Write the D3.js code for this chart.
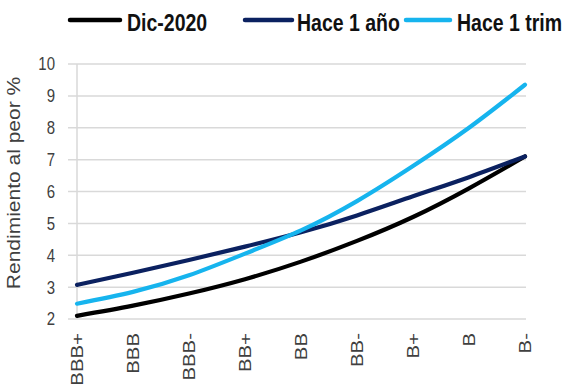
<!DOCTYPE html>
<html>
<head>
<meta charset="utf-8">
<script src="https://cdn.jsdelivr.net/npm/d3@7/dist/d3.min.js"></script>
<style>
  html, body { margin: 0; padding: 0; background: #fff; }
  svg { display: block; }
  text { font-family: "Liberation Sans", Arial, sans-serif; }
</style>
</head>
<body>
<svg id="chart" width="566" height="385"></svg>
<script>
// Ratings on the x axis and yield-to-worst curves (%)
const categories = ["BBB+", "BBB", "BBB-", "BB+", "BB", "BB-", "B+", "B", "B-"];
const dic2020   = [2.10, 2.42, 2.80, 3.25, 3.80, 4.45, 5.20, 6.10, 7.10];
const hace1Ano  = [3.07, 3.45, 3.85, 4.27, 4.72, 5.25, 5.85, 6.45, 7.10];
const hace1Trim = [2.48, 2.85, 3.37, 4.05, 4.78, 5.70, 6.80, 8.00, 9.35];
const yTicks = [2, 3, 4, 5, 6, 7, 8, 9, 10];

const seriesNames = ["Dic-2020", "Hace 1 año", "Hace 1 trim"];
const seriesValues = [dic2020, hace1Ano, hace1Trim];
const seriesColors = ["#000000", "#0b2160", "#16b4ee"];

const svg = d3.select("#chart");
const stretch = 1.2; // text is drawn slightly tall

const x = d3.scalePoint().domain(categories).range([77, 525]);
const y = d3.scaleLinear().domain([2, 10]).range([319, 64]);

// horizontal gridlines (also act as y tick marks)
svg.append("g").selectAll("line").data(yTicks).join("line")
  .attr("x1", 68).attr("x2", 526)
  .attr("y1", d => y(d)).attr("y2", d => y(d))
  .attr("stroke", "#d9d9d9").attr("stroke-width", 1.5);

// vertical axis line
svg.append("line")
  .attr("x1", x(categories[0])).attr("x2", x(categories[0]))
  .attr("y1", y(10)).attr("y2", y(2))
  .attr("stroke", "#d9d9d9").attr("stroke-width", 1.5);

// y tick labels
svg.append("g").selectAll("text").data(yTicks).join("text")
  .attr("transform", d => `translate(55,${y(d) + 6.4}) scale(1,${stretch})`)
  .attr("text-anchor", "end")
  .attr("font-size", 15)
  .attr("fill", "#404040")
  .text(d => d);

// y axis title
svg.append("text")
  .attr("transform", `translate(20,183) scale(1,${stretch}) rotate(-90)`)
  .attr("text-anchor", "middle")
  .attr("font-size", 17.5)
  .attr("fill", "#404040")
  .text("Rendimiento al peor %");

// x category labels, rotated
svg.append("g").selectAll("text").data(categories).join("text")
  .attr("transform", d => `translate(${x(d) + 6},333) scale(1,${stretch}) rotate(-90)`)
  .attr("text-anchor", "end")
  .attr("font-size", 17)
  .attr("fill", "#404040")
  .text(d => d);

// curves
const line = d3.line()
  .x((d, i) => x(categories[i]))
  .y(d => y(d))
  .curve(d3.curveNatural);

svg.append("g").selectAll("path").data(seriesValues).join("path")
  .attr("d", d => line(d))
  .attr("fill", "none")
  .attr("stroke", (d, i) => seriesColors[i])
  .attr("stroke-width", 4.2)
  .attr("stroke-linecap", "round");

// legend
const legendItems = [
  { x1: 70, x2: 120, tx: 127 },
  { x1: 245, x2: 292, tx: 297 },
  { x1: 406, x2: 450, tx: 457 }
];
const legend = svg.append("g");
legend.selectAll("line").data(legendItems).join("line")
  .attr("x1", d => d.x1).attr("x2", d => d.x2)
  .attr("y1", 20).attr("y2", 20)
  .attr("stroke", (d, i) => seriesColors[i])
  .attr("stroke-width", 4.5)
  .attr("stroke-linecap", "round");
legend.selectAll("text").data(legendItems).join("text")
  .attr("transform", d => `translate(${d.tx},31) scale(1,${stretch})`)
  .attr("font-size", 19.5)
  .attr("font-weight", "bold")
  .attr("fill", "#111")
  .text((d, i) => seriesNames[i]);
</script>
</body>
</html>
